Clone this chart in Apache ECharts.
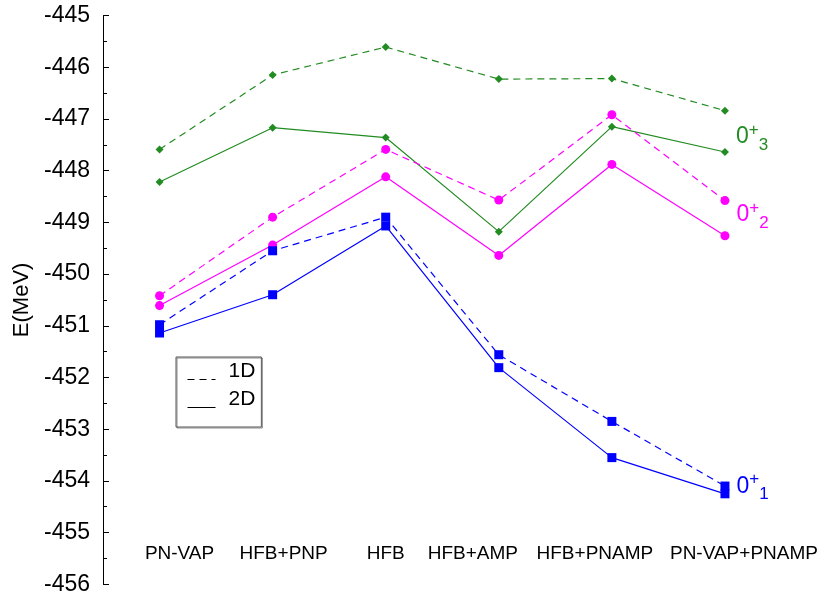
<!DOCTYPE html>
<html>
<head>
<meta charset="UTF-8">
<script src="https://cdn.jsdelivr.net/npm/echarts@6/dist/echarts.min.js"></script>
<style>
  html, body { margin: 0; padding: 0; background: #fff; }
  #main { width: 838px; height: 599px; }
</style>
</head>
<body>
<div id="main"></div>
<script>
// methods on the x axis
var categories = ['PN-VAP', 'HFB+PNP', 'HFB', 'HFB+AMP', 'HFB+PNAMP', 'PN-VAP+PNAMP'];
// energies (MeV), 1D = dashed, 2D = solid
var g1D = [-447.59, -446.15, -445.61, -446.23, -446.22, -446.84];
var g2D = [-448.22, -447.17, -447.36, -449.18, -447.15, -447.64];
var m1D = [-450.42, -448.90, -447.59, -448.57, -446.92, -448.58];
var m2D = [-450.61, -449.44, -448.12, -449.64, -447.88, -449.26];
var b1D = [-450.98, -449.55, -448.90, -451.56, -452.85, -454.10];
var b2D = [-451.14, -450.40, -449.07, -451.81, -453.55, -454.25];
var stateLabels = ['3', '2', '1'];

var FONT = '"Liberation Sans", Arial, Helvetica, sans-serif';
var GREEN = '#228b22', MAGENTA = '#ff00ff', BLUE = '#0000ff';

// shift each category label a bit, like the original
var labelShift = [20, 11, 0, -26, -17, 19];
var xRich = {};
labelShift.forEach(function (d, i) {
    xRich['c' + i] = {
        fontSize: 19, fontFamily: FONT, color: '#000',
        padding: d >= 0 ? [0, 0, 0, 2 * d] : [0, -2 * d, 0, 0]
    };
});

function withEndLabel(values, sub, color, dy) {
    return values.map(function (v, i) {
        if (i < values.length - 1) return v;
        return {
            value: v,
            label: {
                show: true,
                position: 'right',
                distance: 7,
                offset: [0, dy],
                formatter: '{b|0}{p|+}{s|' + sub + '}',
                rich: {
                    b: { fontSize: 23, fontFamily: FONT, color: color },
                    p: { fontSize: 17, fontFamily: FONT, color: color, padding: [0, 0, 13, 0] },
                    s: { fontSize: 17, fontFamily: FONT, color: color, padding: [17, 0, 0, 0] }
                }
            }
        };
    });
}

function line(name, data, color, dashed, symbol, size) {
    return {
        name: name,
        type: 'line',
        data: data,
        symbol: symbol,
        symbolSize: size,
        color: color,
        itemStyle: { color: color },
        lineStyle: { color: color, width: 1.2, type: dashed ? [7, 5] : 'solid' },
        label: { show: false },
        emphasis: { disabled: true }
    };
}

var myChart = echarts.init(document.getElementById('main'));
var option = {
    animation: false,
    textStyle: { fontFamily: FONT },
    grid: { left: 103, right: 56.5, top: 15.5, bottom: 14.7 },
    legend: {
        data: ['1D', '2D'],
        orient: 'vertical',
        left: 176,
        top: 357,
        itemWidth: 28,
        itemHeight: 14,
        itemGap: -9,
        padding: [4, 6, 1, 11],
        borderColor: '#555',
        borderWidth: 1,
        shadowColor: 'rgba(0,0,0,0.45)',
        shadowOffsetX: 1,
        shadowOffsetY: 1,
        itemStyle: { opacity: 0 },
        lineStyle: { width: 1 },
        formatter: '{t|{name}}',
        textStyle: {
            rich: {
                t: { fontSize: 21, fontFamily: FONT, color: '#000', lineHeight: 18, padding: [0, 0, 16, 8] }
            }
        }
    },
    xAxis: {
        type: 'category',
        data: categories,
        boundaryGap: true,
        axisLine: { show: false },
        axisTick: { show: false },
        splitLine: { show: false },
        axisLabel: {
            inside: true,
            margin: 21,
            interval: 0,
            formatter: function (v, i) { return '{c' + i + '|' + v + '}'; },
            rich: xRich
        }
    },
    yAxis: {
        type: 'value',
        min: -456,
        max: -445,
        interval: 1,
        name: 'E(MeV)',
        nameLocation: 'middle',
        nameGap: 68,
        nameTextStyle: { fontSize: 22, fontFamily: FONT, color: '#000' },
        axisLine: { show: true, lineStyle: { color: '#000', width: 1 } },
        axisTick: { show: true, inside: true, length: 6, lineStyle: { color: '#000' } },
        minorTick: { show: true, splitNumber: 2, length: 4, lineStyle: { color: '#000' } },
        splitLine: { show: false },
        axisLabel: { fontSize: 23, fontFamily: FONT, color: '#000', margin: 13 }
    },
    series: [
        line('g1D', g1D, GREEN, true, 'diamond', 8),
        line('g2D', withEndLabel(g2D, stateLabels[0], GREEN, -15), GREEN, false, 'diamond', 8),
        line('m1D', m1D, MAGENTA, true, 'circle', 9),
        line('m2D', withEndLabel(m2D, stateLabels[1], MAGENTA, -21), MAGENTA, false, 'circle', 9),
        line('b1D', b1D, BLUE, true, 'rect', 9),
        line('b2D', withEndLabel(b2D, stateLabels[2], BLUE, -7.5), BLUE, false, 'rect', 9),
        line('1D', [], '#000', true, 'none', 0),
        line('2D', [], '#000', false, 'none', 0)
    ]
};
myChart.setOption(option);
</script>
</body>
</html>
